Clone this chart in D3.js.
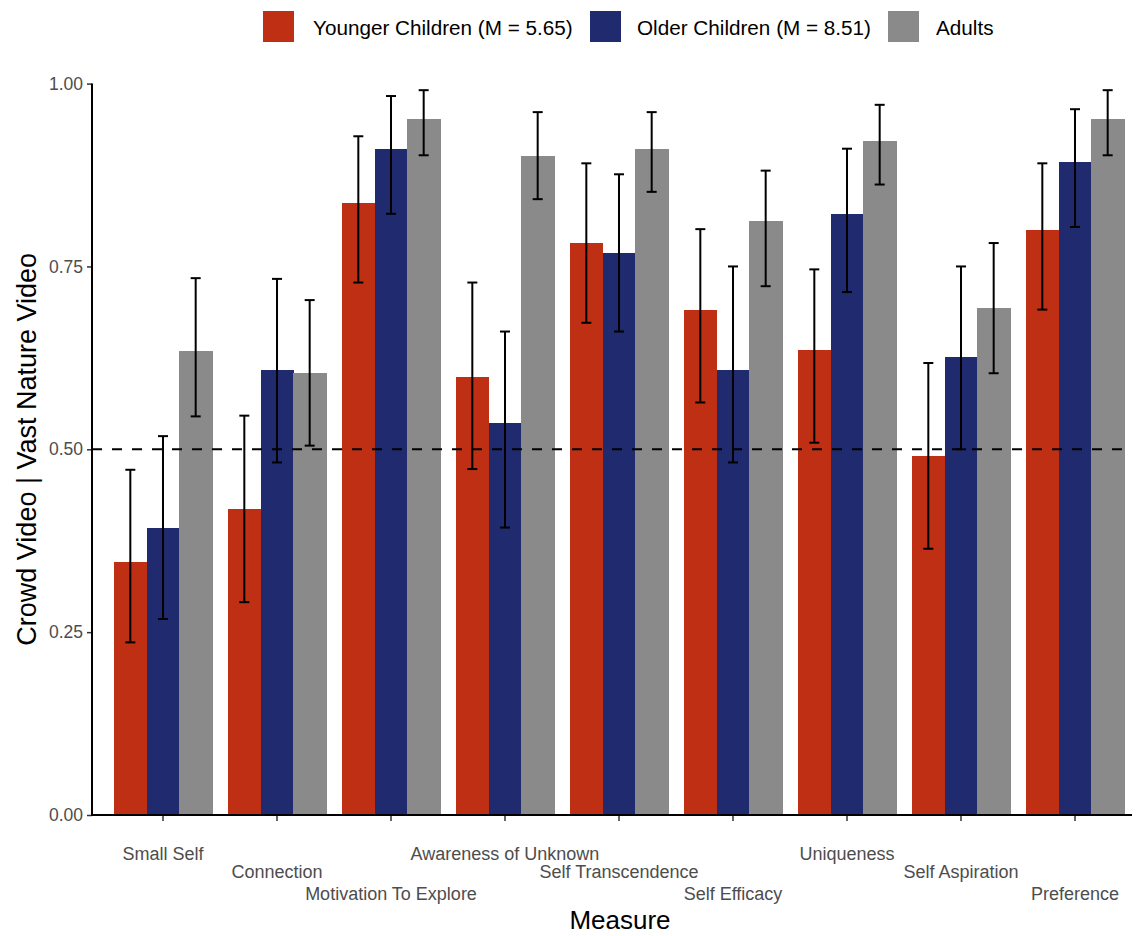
<!DOCTYPE html>
<html>
<head>
<meta charset="utf-8">
<script src="https://cdn.jsdelivr.net/npm/d3@7"></script>
<style>
  html, body { margin: 0; padding: 0; background: #fff; }
  svg { display: block; font-family: "Liberation Sans", Arial, Helvetica, sans-serif; }
</style>
</head>
<body>
<svg id="chart" width="1137" height="936"></svg>
<script>
// Measures shown along the x axis
const measures = [
  "Small Self", "Connection", "Motivation To Explore", "Awareness of Unknown",
  "Self Transcendence", "Self Efficacy", "Uniqueness", "Self Aspiration", "Preference"
];

// Age groups (legend order)
const groups = ["Younger Children (M = 5.65)", "Older Children (M = 8.51)", "Adults"];

// Proportion choosing the vast nature video, per group
const youngerMean = [0.346, 0.418, 0.837, 0.599, 0.782, 0.691, 0.636, 0.491, 0.800];
const olderMean   = [0.392, 0.608, 0.911, 0.536, 0.768, 0.608, 0.822, 0.626, 0.893];
const adultMean   = [0.634, 0.604, 0.951, 0.901, 0.911, 0.812, 0.922, 0.693, 0.951];

// Confidence interval bounds
const youngerLow  = [0.236, 0.291, 0.728, 0.473, 0.673, 0.564, 0.509, 0.364, 0.691];
const youngerHigh = [0.472, 0.546, 0.928, 0.728, 0.891, 0.801, 0.746, 0.618, 0.891];
const olderLow    = [0.268, 0.482, 0.822, 0.393, 0.661, 0.482, 0.715, 0.500, 0.804];
const olderHigh   = [0.518, 0.733, 0.983, 0.661, 0.876, 0.750, 0.911, 0.750, 0.965];
const adultLow    = [0.545, 0.505, 0.902, 0.842, 0.852, 0.723, 0.862, 0.604, 0.902];
const adultHigh   = [0.734, 0.704, 0.991, 0.961, 0.961, 0.881, 0.971, 0.782, 0.991];

const yTicks = [0, 0.25, 0.5, 0.75, 1.0];
const chanceLevel = 0.5;

const colors = ["#BE2F14", "#1F2B6E", "#8A8A8A"];

const series = [
  { mean: youngerMean, low: youngerLow, high: youngerHigh },
  { mean: olderMean, low: olderLow, high: olderHigh },
  { mean: adultMean, low: adultLow, high: adultHigh }
];

const rows = [];
measures.forEach((m, i) => {
  series.forEach((s, g) => {
    rows.push({ measure: m, group: groups[g], gi: g, mean: s.mean[i], low: s.low[i], high: s.high[i] });
  });
});

const svg = d3.select("#chart");
const plotLeft = 92, plotRight = 1132, plotTop = 83.6, plotBottom = 815;

const x = d3.scaleBand().domain(measures).range([106, 1132]).padding(0);
const groupWidth = x.bandwidth() * 0.86;
const xg = d3.scaleBand().domain(groups).range([0, groupWidth]).padding(0);
const y = d3.scaleLinear().domain([0, 1]).range([plotBottom, plotTop]);

const color = d3.scaleOrdinal().domain(groups).range(colors);

const barX = d => x(d.measure) + (x.bandwidth() - groupWidth) / 2 + xg(d.group);

// Bars
svg.append("g").attr("shape-rendering", "crispEdges")
  .selectAll("rect").data(rows).join("rect")
  .attr("x", barX)
  .attr("y", d => y(d.mean))
  .attr("width", xg.bandwidth() + 0.5)
  .attr("height", d => y(0) - y(d.mean))
  .attr("fill", d => color(d.group));

// Chance-level reference line
svg.append("line")
  .attr("x1", plotLeft).attr("x2", plotRight)
  .attr("y1", y(chanceLevel)).attr("y2", y(chanceLevel))
  .attr("stroke", "#000").attr("stroke-width", 2)
  .attr("stroke-dasharray", "10,10");

// Error bars
const capHalf = 5;
const eb = svg.append("g").attr("stroke", "#000").attr("stroke-width", 2);
rows.forEach(d => {
  const cx = barX(d) + xg.bandwidth() / 2;
  eb.append("line").attr("x1", cx).attr("x2", cx).attr("y1", y(d.low)).attr("y2", y(d.high));
  eb.append("line").attr("x1", cx - capHalf).attr("x2", cx + capHalf).attr("y1", y(d.low)).attr("y2", y(d.low));
  eb.append("line").attr("x1", cx - capHalf).attr("x2", cx + capHalf).attr("y1", y(d.high)).attr("y2", y(d.high));
});

// Y axis
const yAxis = svg.append("g").attr("transform", `translate(${plotLeft},0)`)
  .call(d3.axisLeft(y).tickValues(yTicks).tickFormat(d3.format(".2f")).tickSize(5).tickPadding(4));
yAxis.select(".domain").remove();
yAxis.selectAll(".tick line").attr("stroke", "#333").attr("stroke-width", 1.5);
yAxis.selectAll(".tick text").attr("fill", "#4D4D4D").style("font-size", "17.5px");
svg.append("line").attr("x1", plotLeft).attr("x2", plotLeft)
  .attr("y1", plotTop).attr("y2", plotBottom + 1)
  .attr("stroke", "#000").attr("stroke-width", 2);

// X axis with labels staggered over three rows
const xAxis = svg.append("g").attr("transform", `translate(0,${plotBottom})`)
  .call(d3.axisBottom(x).tickSize(6).tickPadding(0));
xAxis.select(".domain").remove();
xAxis.selectAll(".tick line").attr("stroke", "#333").attr("stroke-width", 1.5);
xAxis.selectAll(".tick text")
  .attr("fill", "#4D4D4D").style("font-size", "18px")
  .attr("dy", null)
  .attr("y", (d, i) => [45, 62.7, 85][i % 3]);
svg.append("line").attr("x1", plotLeft - 1).attr("x2", plotRight)
  .attr("y1", plotBottom).attr("y2", plotBottom)
  .attr("stroke", "#000").attr("stroke-width", 2);

// Axis titles
svg.append("text").attr("x", 620).attr("y", 929).attr("text-anchor", "middle")
  .style("font-size", "26px").attr("fill", "#000").text("Measure");
svg.append("text")
  .attr("transform", `translate(36,${(plotTop + plotBottom) / 2}) rotate(-90)`)
  .attr("text-anchor", "middle").style("font-size", "27px").attr("fill", "#000")
  .text("Crowd Video | Vast Nature Video");

// Legend
const legendItems = [
  { label: groups[0], sx: 263, tx: 313 },
  { label: groups[1], sx: 590, tx: 637 },
  { label: groups[2], sx: 888, tx: 936 }
];
const legend = svg.append("g");
legendItems.forEach(it => {
  legend.append("rect").attr("x", it.sx).attr("y", 11).attr("width", 31).attr("height", 31)
    .attr("fill", color(it.label));
  legend.append("text").attr("x", it.tx).attr("y", 35)
    .style("font-size", "20.7px").attr("fill", "#000").text(it.label);
});
</script>
</body>
</html>
